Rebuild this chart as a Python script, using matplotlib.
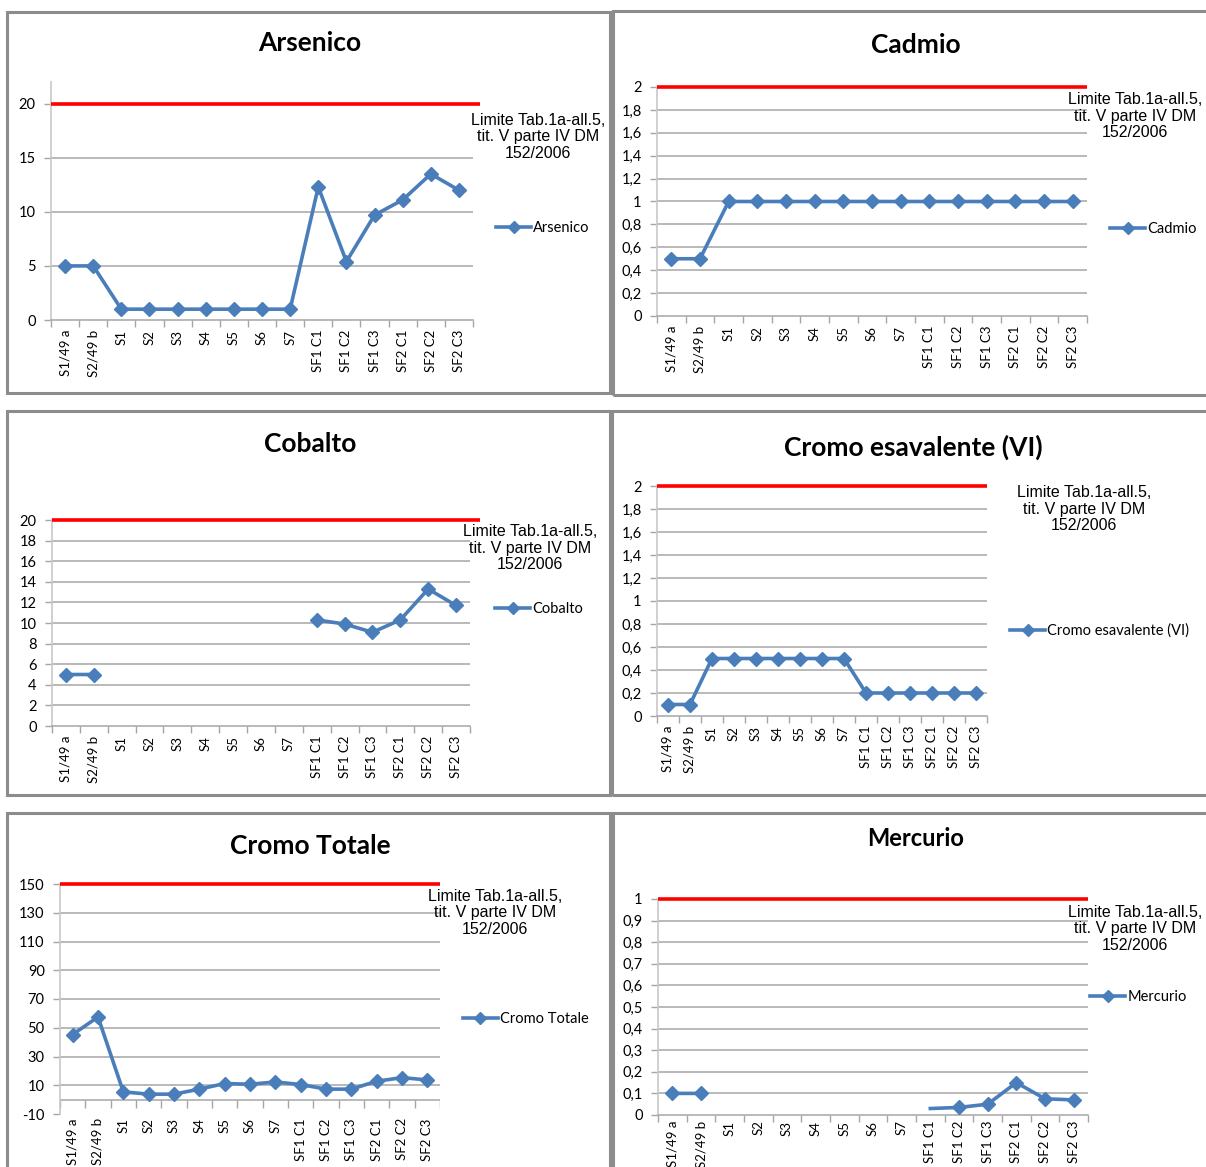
import numpy as np
import matplotlib.pyplot as plt
from matplotlib.patches import Rectangle
from matplotlib.lines import Line2D

W, H = 1206, 1167
nan = np.nan

categories = ['S1/49 a', 'S2/49 b', 'S1', 'S2', 'S3', 'S4', 'S5', 'S6', 'S7',
              'SF1 C1', 'SF1 C2', 'SF1 C3', 'SF2 C1', 'SF2 C2', 'SF2 C3']

arsenico = [5, 5, 1, 1, 1, 1, 1, 1, 1, 12.3, 5.4, 9.7, 11.1, 13.5, 12.0]
cadmio = [0.5, 0.5, 1, 1, 1, 1, 1, 1, 1, 1, 1, 1, 1, 1, 1]
cobalto = [5, 5, nan, nan, nan, nan, nan, nan, nan, 10.3, 9.9, 9.1, 10.3, 13.3, 11.7]
cromo_vi = [0.1, 0.1, 0.5, 0.5, 0.5, 0.5, 0.5, 0.5, 0.5, 0.2, 0.2, 0.2, 0.2, 0.2, 0.2]
cromo_tot = [45.3, 57.5, 5.4, 3.8, 3.8, 7.3, 11.2, 10.7, 12.3, 10.5, 7.3, 7.3, 12.8, 15.3, 13.7]
mercurio = [0.1, 0.1, nan, nan, nan, nan, nan, nan, nan, 0.03, 0.035, 0.05, 0.15, 0.075, 0.07]

names = ['Arsenico', 'Cadmio', 'Cobalto', 'Cromo esavalente (VI)', 'Cromo Totale', 'Mercurio']
series = [arsenico, cadmio, cobalto, cromo_vi, cromo_tot, mercurio]
limits = [20, 2, 20, 2, 150, 1]
y_ranges = [(0, 22, 5), (0, 2, 0.2), (0, 20, 2), (0, 2, 0.2), (-10, 150, 20), (0, 1, 0.1)]

limit_label = 'Limite Tab.1a-all.5,\ntit. V parte IV DM\n152/2006'

# pixel layout of each chart: axes box, title, legend, note, panel frame
layout = [
    dict(ax=(51, 82, 473, 320), title=(310, 43, 19), leg=(496, 228), note=(538, 137), red_ext=0.25,
         frame=(7, 12, 610, 393), pad=7),
    dict(ax=(657, 87, 1087, 316), title=(916, 45, 19), leg=(1110, 229), note=(1135, 116), red_ext=0,
         frame=(613, 11, 1212, 395), pad=7),
    dict(ax=(52, 520, 470, 726), title=(310, 444, 19), leg=(495, 609), note=(530, 548), red_ext=0.35,
         frame=(7, 411, 610, 795), pad=7),
    dict(ax=(657, 486, 987, 716), title=(913, 447, 19), leg=(1010, 631), note=(1084, 509), red_ext=0,
         frame=(612, 411, 1212, 795), pad=7),
    dict(ax=(60, 884, 440, 1114), title=(310, 846, 19), leg=(463, 1019), note=(495, 913), red_ext=0,
         frame=(7, 813, 610, 1172), pad=3),
    dict(ax=(658, 899, 1088, 1115), title=(916, 838, 17), leg=(1090, 997), note=(1135, 929), red_ext=0,
         frame=(613, 813, 1212, 1172), pad=4),
]

blue = '#4a7ebb'
grid_c = '#a6a6a6'

plt.rcParams['font.family'] = ['Lato', 'DejaVu Sans']
fig = plt.figure(figsize=(W / 100, H / 100), dpi=100)


def fx(x):
    return x / W


def fy(y):
    return 1 - y / H


def comma(v):
    return ('%g' % round(v, 2)).replace('.', ',')


x = np.arange(len(categories))

for name, vals, lim, (y0, y1, step), lay in zip(names, series, limits, y_ranges, layout):
    # panel frame
    l, t, r, b = lay['frame']
    fig.add_artist(Rectangle((fx(l), fy(b)), fx(r - l), (b - t) / H, transform=fig.transFigure,
                             fill=False, edgecolor='#8c8c8c', lw=2.2, zorder=0))

    l, t, r, b = lay['ax']
    ax = fig.add_axes([fx(l), fy(b), fx(r - l), (b - t) / H])
    ax.set_xlim(-0.5, len(categories) - 0.5)
    ax.set_ylim(y0, y1)

    yt = np.arange(y0, y1 + step / 2, step)
    ax.set_yticks(yt)
    ax.set_yticklabels([comma(v) for v in yt], fontsize=10.5)
    ax.tick_params(axis='y', length=5, width=1, color=grid_c, pad=6)
    for v in yt:
        if v != y0 and v != lim:
            ax.axhline(v, color=grid_c, lw=1.1, zorder=1)

    ax.set_xticks(x)
    ax.set_xticklabels(categories, rotation=90, fontsize=9.5)
    ax.set_xticks(np.arange(-0.5, len(categories)), minor=True)
    ax.tick_params(axis='x', which='major', length=0, pad=lay['pad'])
    ax.tick_params(axis='x', which='minor', length=5, width=1, color=grid_c)

    for s in ['top', 'right']:
        ax.spines[s].set_visible(False)
    ax.spines['left'].set_color('#c8c8c8')
    ax.spines['left'].set_linewidth(1.2)
    if y0 < 0:
        # category axis crosses at zero, labels stay at the bottom
        ax.spines['bottom'].set_visible(False)
        ax.tick_params(axis='x', which='minor', length=0)
        ax.axhline(0, color=grid_c, lw=1.1, zorder=1)
        ax.vlines(np.arange(-0.5, len(categories)), 0, -0.035 * (y1 - y0), color=grid_c, lw=1)
    else:
        ax.spines['bottom'].set_color(grid_c)
        ax.spines['bottom'].set_linewidth(1.1)

    # regulatory limit
    ax.plot([-0.5, len(categories) - 0.5 + lay['red_ext']], [lim, lim], color='#ff0000', lw=2.6,
            clip_on=False, zorder=3, solid_capstyle='butt')

    marks = [i for i, v in enumerate(vals) if not np.isnan(v)]
    if name == 'Mercurio':
        marks = marks[:2] + marks[3:]
    ax.plot(x, vals, color=blue, lw=2.6, marker='D', ms=7, markevery=marks, zorder=4, clip_on=False)

    tx, ty, ts = lay['title']
    fig.text(fx(tx), fy(ty), name, ha='center', va='center', fontsize=ts, fontweight='bold')

    nx, ny = lay['note']
    fig.text(fx(nx), fy(ny), limit_label, ha='center', va='center', fontsize=11.5,
             family='Liberation Sans', linespacing=1.1)

    lx, ly = lay['leg']
    h = Line2D([], [], color=blue, lw=2.6, marker='D', ms=6)
    fig.legend([h], [name], loc='center left', bbox_to_anchor=(fx(lx), fy(ly)), frameon=False,
               fontsize=10.5, handlelength=2.4, handletextpad=0.15, borderpad=0, borderaxespad=0)

fig.savefig('out.png', dpi=100)
